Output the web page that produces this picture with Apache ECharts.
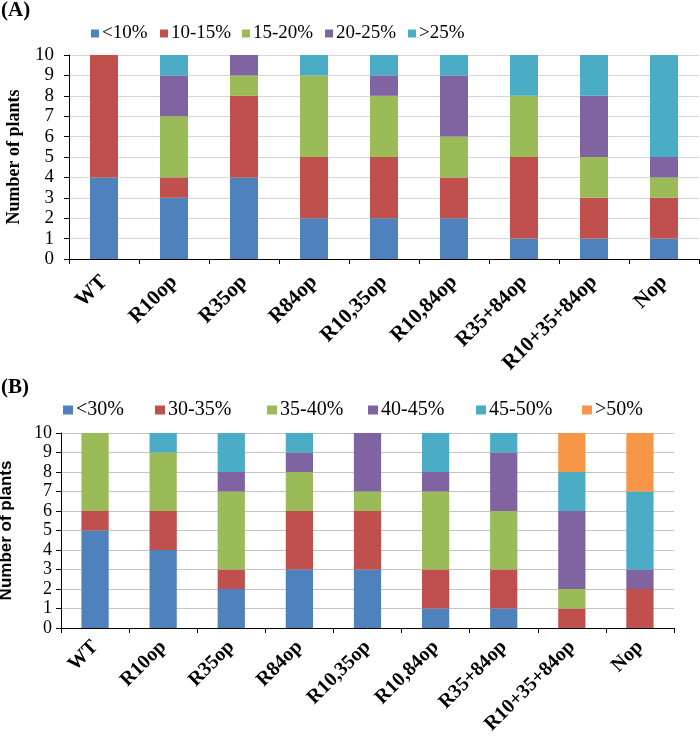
<!DOCTYPE html>
<html><head><meta charset="utf-8">
<script src="https://cdn.jsdelivr.net/npm/echarts@6/dist/echarts.min.js"></script>
<style>html,body{margin:0;padding:0;background:#fff}#c{width:700px;height:736px}</style>
</head><body><div id="c"></div>
<script>
const categories = ['WT','R10op','R35op','R84op','R10,35op','R10,84op','R35+84op','R10+35+84op','Nop'];
const yTicks = [0,1,2,3,4,5,6,7,8,9,10];

const namesA = ['<10%','10-15%','15-20%','20-25%','>25%'];
const a_lt10   = [4,3,4,2,2,2,1,1,1];
const a_10_15  = [6,1,4,3,3,2,4,2,2];
const a_15_20  = [0,3,1,4,3,2,3,2,1];
const a_20_25  = [0,2,1,0,1,3,0,3,1];
const a_gt25   = [0,1,0,1,1,1,2,2,5];

const namesB = ['<30%','30-35%','35-40%','40-45%','45-50%','>50%'];
const b_lt30   = [5,4,2,3,3,1,1,0,0];
const b_30_35  = [1,2,1,3,3,2,2,1,2];
const b_35_40  = [4,3,4,2,1,4,3,1,0];
const b_40_45  = [0,0,1,1,3,1,3,4,1];
const b_45_50  = [0,1,2,1,0,2,1,2,4];
const b_gt50   = [0,0,0,0,0,0,0,2,3];

const colors = ['#4F81BD','#C0504D','#9BBB59','#8064A2','#4BACC6','#F79646'];
const dataA = [a_lt10,a_10_15,a_15_20,a_20_25,a_gt25];
const dataB = [b_lt30,b_30_35,b_35_40,b_40_45,b_45_50,b_gt50];

const serif = 'Liberation Serif';
const chart = echarts.init(document.getElementById('c'));

function xAxis(gi, fs, m){
  return {type:'category', gridIndex:gi, data:categories, boundaryGap:true,
    axisLine:{lineStyle:{color:'#000',width:1}},
    axisTick:{show:true, alignWithLabel:false, length:5, inside:false, lineStyle:{color:'#000'}},
    axisLabel:{interval:0, rotate:45, fontFamily:serif, fontWeight:'bold', fontSize:fs, color:'#000', margin:m, hideOverlap:false}};
}
function yAxis(gi, fs, m, nameFont, nameSize, gap, gridColor){
  return {type:'value', gridIndex:gi, min:yTicks[0], max:yTicks[yTicks.length-1], interval:1,
    name:'Number of plants', nameLocation:'middle', nameGap:gap,
    nameTextStyle:{fontFamily:nameFont, fontWeight:'bold', fontSize:nameSize, color:'#000'},
    axisLine:{show:true, lineStyle:{color:'#000',width:1}},
    axisTick:{show:true, length:5, lineStyle:{color:'#000'}},
    splitLine:{show:true, lineStyle:{color:gridColor,width:1}},
    axisLabel:{fontFamily:serif, fontSize:fs, lineHeight:14, color:'#000', margin:m, showMinLabel:true, showMaxLabel:true, hideOverlap:false}};
}

const series = [];
namesA.forEach((n,i)=>series.push({name:n, type:'bar', stack:'A', xAxisIndex:0, yAxisIndex:0,
  data:dataA[i], barWidth:'40%', itemStyle:{color:colors[i]}}));
namesB.forEach((n,i)=>series.push({name:n, type:'bar', stack:'B', xAxisIndex:1, yAxisIndex:1,
  data:dataB[i], barWidth:'40%', itemStyle:{color:colors[i]}}));

const legA = [91,160,242,325,408];
const legB = [63,155,267,368,476,582];
const legends = [];
namesA.forEach((n,i)=>legends.push({data:[n], left:legA[i], top:24, itemWidth:8, itemHeight:8, itemGap:0,
  icon:'rect', selectedMode:false, padding:0, textStyle:{fontFamily:serif, fontSize:19, color:'#000', padding:[0,0,0,-2]}}));
namesB.forEach((n,i)=>legends.push({data:[n], left:legB[i], top:400, itemWidth:10, itemHeight:9, itemGap:0,
  icon:'rect', selectedMode:false, padding:0, textStyle:{fontFamily:serif, fontSize:20, color:'#000', padding:[0,0,0,-2]}}));

chart.setOption({
  animation:false,
  backgroundColor:'#fff',
  title:[
    {text:'(A)', left:1, top:0, padding:0, textStyle:{fontFamily:serif, fontWeight:'bold', fontSize:21, color:'#000'}},
    {text:'(B)', left:1, top:377, padding:0, textStyle:{fontFamily:serif, fontWeight:'bold', fontSize:21, color:'#000'}}
  ],
  legend:legends,
  grid:[
    {left:69, top:55, width:630, height:204, outerBoundsMode:'none'},
    {left:61, top:433, width:613, height:195, outerBoundsMode:'none'}
  ],
  xAxis:[xAxis(0,21,20), xAxis(1,20,16)],
  yAxis:[yAxis(0,19,15,serif,18,46,'#d6d6d6'), yAxis(1,18,9,'Liberation Sans',17,46,'#c4c4c4')],
  series:series
});
</script></body></html>
